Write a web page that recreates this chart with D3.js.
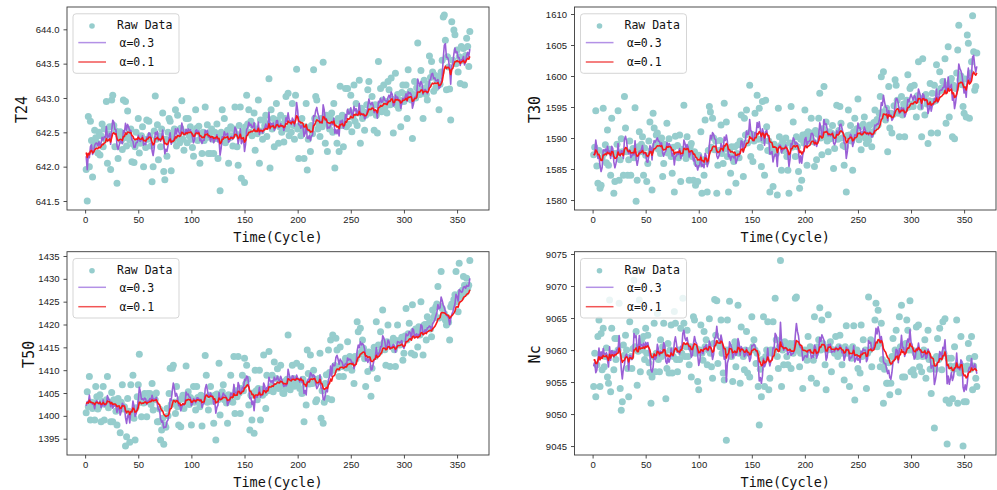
<!DOCTYPE html>
<html>
<head>
<meta charset="utf-8">
<script src="https://cdnjs.cloudflare.com/ajax/libs/d3/7.8.5/d3.min.js"></script>
<style>
  html, body { margin: 0; padding: 0; background: #ffffff; }
  svg { display: block; }
</style>
</head>
<body>
<svg id="chart" width="997" height="490"></svg>
<script>
// ---------------- DATA (cycles 1..362) ----------------
const T24 = [
641.96,641.50,642.73,642.00,642.66,642.38,641.85,642.30,642.53,642.42,
642.35,642.20,642.50,642.17,642.45,642.62,642.29,642.55,642.40,642.95,
642.05,642.48,642.58,641.96,642.97,643.04,642.60,642.29,642.52,641.76,
642.12,642.45,642.51,642.38,642.25,642.97,642.42,642.95,642.30,642.81,
642.48,642.39,642.55,642.07,642.33,642.06,642.29,642.50,642.36,642.70,
642.20,642.34,642.45,642.58,642.00,642.40,642.28,642.68,642.40,642.66,
642.45,642.30,641.78,642.00,642.52,643.03,642.40,642.61,642.10,642.45,
642.29,642.55,642.78,641.93,641.81,642.40,642.15,642.50,642.70,642.66,
641.94,642.48,642.39,642.55,642.83,642.30,642.75,642.42,642.35,642.56,
642.96,642.40,642.24,642.50,642.70,642.35,642.70,642.45,642.58,642.40,
642.28,642.15,642.50,642.83,642.56,642.38,642.59,642.05,642.45,642.19,
642.50,642.38,642.87,642.42,642.61,642.19,642.48,642.19,642.55,642.40,
642.19,642.50,642.41,642.62,642.12,642.45,641.65,642.50,642.83,642.40,
642.70,642.35,642.48,642.53,642.05,642.42,642.58,642.45,642.30,642.55,
642.87,642.48,642.29,642.02,642.60,642.87,641.83,642.45,642.52,641.77,
642.58,643.04,642.62,642.83,642.50,642.66,642.45,642.60,642.78,642.24,
642.55,642.48,642.97,642.05,642.68,642.52,642.40,642.68,642.60,642.75,
642.44,642.62,643.28,641.98,642.83,642.55,642.70,642.29,642.62,642.92,
642.68,642.34,642.58,642.75,642.50,642.62,642.36,642.70,643.02,642.55,
643.07,642.45,642.62,642.50,642.92,642.60,642.40,643.04,643.42,642.55,
642.12,642.60,642.45,642.70,642.52,642.12,642.58,642.92,641.95,642.40,
642.55,642.22,642.60,642.48,643.41,642.70,643.02,642.97,642.55,642.62,
642.44,642.70,642.58,643.52,642.65,642.34,642.75,642.22,642.61,642.55,
642.70,642.78,642.50,642.92,641.98,642.66,642.34,642.70,642.22,643.17,
642.60,642.75,642.29,642.68,643.14,642.58,643.14,642.62,642.80,643.04,
642.51,642.72,643.19,642.66,642.92,642.60,642.78,643.26,642.34,642.85,
642.70,642.80,642.53,642.75,642.90,643.12,643.24,642.78,642.85,643.02,
642.80,642.53,642.90,642.75,642.49,643.53,642.88,643.14,642.80,642.97,
643.19,642.85,642.95,642.78,643.24,643.12,642.90,643.29,642.98,642.49,
642.95,643.36,642.90,643.05,642.85,642.97,642.58,643.08,643.19,642.95,
643.05,643.19,642.70,643.41,643.00,643.10,642.97,642.41,643.05,643.24,
643.00,643.15,643.80,643.10,643.05,643.40,643.12,642.70,643.26,643.15,
643.05,642.97,643.20,643.61,643.30,643.53,643.38,643.10,643.33,643.15,
643.25,643.31,642.83,643.20,643.38,643.55,644.18,644.21,643.84,643.12,
643.60,643.45,643.13,642.68,644.11,643.55,643.99,643.92,643.50,643.70,
643.38,643.60,643.21,643.75,643.55,643.72,643.19,643.62,643.87,643.75,
643.46,643.97];

const T30 = [
1587.3,1588.5,1594.4,1585.5,1582.7,1588.0,1581.9,1582.4,1586.8,1594.8,
1587.5,1588.9,1586.0,1591.3,1585.6,1588.2,1584.0,1593.2,1587.5,1581.1,
1583.0,1587.5,1589.0,1594.4,1583.2,1586.5,1589.9,1587.8,1584.0,1596.7,
1591.6,1587.8,1584.0,1586.5,1589.5,1584.0,1587.8,1588.3,1586.8,1594.9,
1579.8,1583.2,1588.6,1591.0,1587.8,1589.0,1590.2,1584.0,1588.4,1587.2,
1583.0,1585.9,1589.5,1592.6,1588.0,1581.6,1594.0,1591.6,1588.8,1590.5,
1590.8,1588.2,1589.4,1587.5,1590.0,1583.8,1585.9,1589.0,1588.6,1592.4,
1587.6,1589.9,1588.2,1587.0,1584.3,1588.5,1581.3,1590.3,1587.2,1588.8,
1586.8,1590.5,1583.0,1588.2,1587.5,1595.3,1588.0,1586.7,1590.2,1587.5,
1583.2,1588.6,1589.1,1587.0,1583.2,1587.8,1582.4,1586.0,1583.0,1587.2,
1585.8,1591.0,1581.1,1586.5,1584.0,1592.9,1586.2,1581.3,1588.0,1595.1,
1594.2,1588.5,1593.2,1590.0,1588.1,1589.5,1581.1,1585.6,1588.0,1589.6,
1592.1,1587.5,1585.9,1595.6,1588.3,1592.6,1587.0,1581.3,1588.0,1584.3,
1588.6,1587.0,1586.2,1588.6,1582.7,1587.5,1588.9,1586.8,1589.5,1593.7,
1589.0,1583.8,1593.2,1590.5,1594.5,1589.2,1590.8,1598.5,1587.0,1590.6,
1586.2,1589.5,1594.0,1590.0,1596.9,1589.8,1594.8,1588.5,1585.4,1595.9,
1589.6,1584.0,1596.1,1591.8,1588.0,1589.5,1581.3,1587.8,1588.5,1582.2,
1589.0,1588.2,1587.5,1580.8,1594.8,1590.2,1588.8,1584.8,1589.5,1588.0,
1588.9,1590.0,1587.0,1584.8,1581.1,1589.2,1595.1,1588.5,1592.6,1589.0,
1587.0,1590.2,1588.6,1584.6,1581.9,1589.8,1583.2,1590.5,1589.2,1594.5,
1590.6,1585.6,1591.0,1589.5,1590.2,1593.2,1590.8,1589.4,1585.4,1591.2,
1586.5,1590.6,1593.2,1597.2,1590.0,1587.3,1591.5,1598.3,1590.2,1592.6,
1589.5,1587.8,1591.0,1589.9,1590.8,1592.0,1585.1,1588.3,1590.5,1595.3,
1589.8,1591.2,1595.1,1592.4,1590.0,1588.8,1585.6,1588.6,1581.3,1590.4,
1594.5,1590.5,1592.0,1589.5,1584.8,1591.0,1593.2,1590.2,1591.5,1596.3,
1589.7,1591.8,1588.1,1590.6,1592.2,1593.4,1590.0,1589.1,1591.5,1589.6,
1592.1,1590.5,1588.6,1591.0,1592.5,1594.5,1591.8,1593.0,1592.1,1594.0,
1596.7,1599.9,1594.2,1600.7,1593.5,1592.9,1594.8,1587.8,1598.3,1591.6,
1594.0,1590.8,1593.8,1595.2,1599.4,1598.5,1596.1,1594.0,1590.2,1594.5,
1596.7,1593.7,1595.5,1590.2,1594.8,1596.1,1600.2,1595.0,1598.0,1598.3,
1595.5,1595.1,1598.5,1596.2,1593.4,1596.8,1602.3,1596.1,1595.0,1590.2,
1602.8,1596.5,1593.7,1597.0,1595.5,1589.1,1596.0,1598.8,1590.8,1597.2,
1595.9,1598.5,1596.0,1601.8,1590.8,1597.5,1600.7,1598.0,1597.7,1599.1,
1598.2,1602.8,1592.4,1598.5,1604.7,1593.4,1599.0,1599.6,1590.2,1598.5,
1589.9,1598.0,1600.5,1604.2,1608.2,1599.4,1600.0,1598.6,1595.1,1594.0,
1599.5,1593.4,1606.6,1605.3,1593.2,1600.5,1602.3,1609.7,1603.9,1597.7,
1598.3,1603.7];

const T50 = [
1400.7,1405.3,1402.0,1408.6,1399.1,1403.0,1401.6,1402.8,1399.1,1406.4,
1404.2,1401.5,1402.0,1404.6,1398.7,1403.2,1406.4,1399.1,1402.5,1403.5,
1408.6,1401.8,1403.0,1398.7,1405.1,1398.7,1403.5,1402.7,1401.0,1398.0,
1403.8,1402.2,1396.3,1403.0,1406.8,1401.5,1402.0,1393.4,1395.4,1403.8,
1401.0,1394.2,1406.8,1400.5,1408.9,1399.5,1394.7,1401.8,1404.2,1406.8,
1413.5,1403.0,1399.8,1404.0,1402.8,1404.9,1403.2,1399.8,1404.9,1403.5,
1404.9,1402.5,1407.1,1401.3,1404.0,1403.5,1405.0,1398.7,1398.7,1401.5,
1394.7,1396.9,1399.5,1393.8,1398.0,1397.5,1401.6,1400.0,1404.9,1410.4,
1402.5,1410.4,1411.1,1403.0,1400.5,1406.4,1402.0,1398.0,1403.5,1397.6,
1403.8,1404.5,1401.6,1403.8,1410.9,1403.0,1405.3,1402.5,1404.0,1398.0,
1403.5,1406.4,1403.0,1401.3,1406.4,1404.0,1403.2,1402.0,1404.5,1397.8,
1404.2,1403.5,1413.2,1408.9,1403.0,1401.3,1404.5,1406.4,1403.2,1404.0,
1398.4,1404.5,1394.7,1404.8,1403.5,1411.5,1400.2,1404.0,1405.3,1406.8,
1403.5,1404.2,1402.8,1398.4,1404.6,1403.8,1408.9,1404.5,1403.0,1413.0,
1400.5,1405.5,1404.2,1413.0,1405.0,1400.5,1406.0,1408.9,1405.5,1412.6,
1407.0,1411.1,1408.0,1402.4,1396.9,1404.5,1399.1,1405.0,1396.2,1410.0,
1405.5,1403.5,1406.0,1410.0,1399.1,1405.8,1404.5,1413.3,1405.0,1401.6,
1408.9,1405.5,1414.1,1406.0,1406.4,1408.9,1405.3,1411.8,1406.5,1408.2,
1410.3,1406.0,1407.0,1411.1,1406.5,1405.0,1404.9,1407.5,1406.0,1408.0,
1417.7,1406.5,1405.7,1407.0,1411.1,1408.2,1406.5,1407.5,1411.5,1406.8,
1407.5,1406.0,1410.8,1404.9,1408.0,1398.7,1407.0,1402.4,1414.4,1409.3,
1407.0,1413.3,1408.5,1407.1,1410.0,1408.0,1403.1,1403.5,1407.5,1408.2,
1413.7,1399.5,1405.5,1398.4,1403.0,1407.1,1409.0,1403.8,1414.4,1409.5,
1416.6,1403.5,1417.7,1410.0,1411.0,1417.0,1414.4,1410.5,1408.6,1415.1,
1411.0,1410.8,1408.6,1411.5,1412.6,1410.5,1416.2,1411.0,1413.0,1411.8,
1410.0,1412.0,1407.1,1413.0,1412.5,1420.6,1418.4,1413.5,1419.2,1414.0,
1416.6,1414.8,1412.5,1406.4,1413.5,1409.7,1414.0,1412.8,1404.3,1410.4,
1413.8,1415.0,1413.0,1420.6,1408.2,1415.5,1414.0,1418.4,1415.0,1423.2,
1416.0,1414.5,1411.1,1416.2,1419.9,1415.5,1410.8,1416.0,1415.1,1417.0,
1414.5,1410.8,1416.5,1419.9,1416.0,1415.5,1416.6,1417.2,1412.2,1413.7,
1417.5,1423.5,1416.6,1418.0,1420.3,1417.5,1413.7,1424.3,1418.5,1413.3,
1419.0,1418.5,1415.1,1419.5,1417.7,1425.0,1419.0,1413.3,1419.9,1420.0,
1416.6,1421.7,1419.5,1420.5,1419.0,1417.3,1423.2,1421.5,1422.0,1423.9,
1424.5,1428.3,1421.4,1424.0,1431.6,1423.5,1422.0,1422.4,1421.0,1419.9,
1421.5,1420.5,1416.6,1423.9,1424.5,1424.3,1425.5,1426.5,1431.6,1425.0,
1422.8,1433.4,1427.0,1426.1,1427.5,1430.5,1428.6,1427.0,1430.1,1427.9,
1428.6,1434.0];

const Nc = [
9054.3,9059.5,9052.7,9057.7,9062.1,9064.7,9054.3,9062.6,9056.9,9063.4,
9057.4,9059.0,9060.3,9055.8,9054.8,9067.8,9053.5,9063.4,9059.5,9056.9,
9061.8,9058.5,9061.8,9060.0,9067.3,9054.0,9050.6,9051.9,9060.8,9059.2,
9062.3,9060.0,9057.1,9052.7,9064.4,9059.0,9057.1,9060.2,9070.9,9060.5,
9062.9,9054.5,9059.8,9067.8,9056.6,9061.5,9060.0,9062.1,9058.5,9063.4,
9059.5,9062.3,9058.0,9056.5,9051.7,9055.8,9059.0,9064.2,9056.6,9059.5,
9065.7,9058.5,9056.6,9061.6,9059.0,9060.5,9064.2,9059.5,9052.4,9057.1,
9061.0,9056.4,9060.0,9063.9,9056.4,9059.0,9066.0,9064.2,9058.5,9056.6,
9060.0,9058.5,9063.4,9059.5,9068.1,9064.2,9059.0,9060.5,9063.1,9059.0,
9057.7,9060.5,9055.8,9060.0,9065.2,9064.7,9059.5,9060.2,9055.1,9053.8,
9060.0,9063.9,9059.5,9058.4,9062.9,9060.5,9061.6,9057.7,9060.0,9064.9,
9059.5,9057.4,9055.6,9061.0,9067.9,9062.3,9067.7,9057.9,9061.0,9060.5,
9064.7,9059.5,9056.4,9055.3,9060.0,9045.9,9064.7,9060.0,9067.6,9060.0,
9059.0,9055.1,9060.5,9061.3,9057.4,9060.5,9067.0,9059.5,9054.8,9063.6,
9059.5,9059.0,9056.9,9060.0,9062.9,9056.4,9059.5,9055.8,9060.0,9065.2,
9060.5,9061.6,9060.0,9057.9,9059.5,9054.3,9048.3,9057.0,9052.7,9058.5,
9065.2,9054.3,9059.0,9060.0,9064.4,9053.8,9055.6,9060.0,9059.5,9064.4,
9060.0,9068.1,9061.6,9059.0,9057.1,9060.5,9074.0,9054.3,9060.0,9057.7,
9061.3,9060.5,9059.0,9057.7,9060.5,9061.0,9057.1,9060.0,9059.5,9061.0,
9068.1,9068.3,9060.0,9060.5,9057.4,9059.5,9060.0,9054.0,9059.5,9060.0,
9059.0,9058.4,9062.1,9060.0,9060.5,9055.6,9060.0,9058.4,9065.2,9059.5,
9054.8,9060.5,9061.6,9066.6,9060.0,9064.7,9061.0,9060.5,9057.7,9053.8,
9060.0,9065.5,9060.5,9061.3,9056.6,9060.0,9060.0,9059.5,9062.1,9060.0,
9059.0,9060.5,9062.3,9059.5,9057.7,9060.0,9055.3,9060.5,9063.8,9059.5,
9060.0,9054.3,9060.0,9058.7,9060.5,9063.8,9052.2,9059.5,9060.0,9057.1,
9059.5,9056.4,9063.9,9059.0,9061.6,9059.5,9060.0,9054.0,9059.5,9068.3,
9060.0,9061.6,9057.4,9060.5,9061.0,9064.7,9067.3,9060.5,9066.2,9061.0,
9057.4,9064.2,9058.5,9051.7,9057.0,9058.0,9054.8,9054.8,9058.0,9053.0,
9054.8,9059.0,9061.8,9059.0,9060.0,9063.1,9059.5,9053.5,9065.2,9060.5,
9067.0,9055.8,9060.5,9055.8,9061.0,9064.7,9063.1,9060.0,9067.7,9056.6,
9060.0,9056.9,9056.1,9059.5,9063.6,9059.0,9063.9,9057.4,9059.5,9056.6,
9059.0,9060.0,9061.6,9055.6,9059.5,9063.1,9058.5,9057.0,9053.2,9058.5,
9057.5,9047.8,9057.0,9059.0,9061.8,9058.5,9063.4,9059.0,9056.9,9064.4,
9059.5,9064.9,9052.2,9045.3,9058.7,9051.7,9057.5,9058.7,9052.4,9057.0,
9060.5,9057.5,9064.7,9051.7,9057.0,9056.4,9062.1,9057.5,9045.0,9051.9,
9057.0,9051.9,9057.5,9061.0,9058.7,9057.0,9062.1,9053.8,9057.5,9059.0,
9055.6,9054.3];

const xTicks = [0, 50, 100, 150, 200, 250, 300, 350];
const T24_TICKS = [641.5, 642.0, 642.5, 643.0, 643.5, 644.0];
const T30_TICKS = [1580, 1585, 1590, 1595, 1600, 1605, 1610];
const T50_TICKS = [1395, 1400, 1405, 1410, 1415, 1420, 1425, 1430, 1435];
const NC_TICKS  = [9045, 9050, 9055, 9060, 9065, 9070, 9075];
const SMOOTH_ALPHAS = [0.3, 0.1];
const X_LABEL = "Time(Cycle)";
const LEGEND_LABELS = ["Raw Data", "\u03b1=0.3", "\u03b1=0.1"];

// ---------------- LAYOUT / STYLE ----------------
const COL = { dot: "#96CDCD", a3: "#9A5FD6", a1: "#F81818", legA3: "#B391E6", legA1: "#F25555", axis: "#3a3a3a" };
const MONO = "'DejaVu Sans Mono', 'Liberation Mono', monospace";
const SANS = "'Liberation Sans', Arial, sans-serif";

const panels = [
  { name: "T24", values: T24, ticks: T24_TICKS, fmt: d3.format(".1f"), dom: [641.369, 644.325], left: 67,    right: 489, top: 7,     bottom: 210, labX: 22 },
  { name: "T30", values: T30, ticks: T30_TICKS, fmt: d3.format("d"),   dom: [1578.39, 1611.13], left: 574.5, right: 996, top: 7,     bottom: 210, labX: 535 },
  { name: "T50", values: T50, ticks: T50_TICKS, fmt: d3.format("d"),   dom: [1391.43, 1435.94], left: 67,    right: 489, top: 251.7, bottom: 455, labX: 28.5 },
  { name: "Nc",  values: Nc,  ticks: NC_TICKS,  fmt: d3.format("d"),   dom: [9043.6, 9075.36],  left: 574.5, right: 996, top: 251.7, bottom: 455, labX: 535 }
];

// exponential smoothing, seeded with the mean of the first readings
function smooth(vals, a) {
  let s = d3.mean(vals.slice(0, 10));
  return vals.map(v => (s = a * v + (1 - a) * s));
}

const svg = d3.select("#chart");
svg.append("rect").attr("width", 997).attr("height", 490).attr("fill", "#fff");

panels.forEach((p, pi) => {
  const cycles = p.values.map((_, i) => i + 1);
  const x = d3.scaleLinear().domain([-17.05, 380.05]).range([p.left, p.right]);
  const y = d3.scaleLinear().domain(p.dom).range([p.bottom, p.top]);
  const g = svg.append("g");

  const clipId = "clip" + pi;
  g.append("clipPath").attr("id", clipId).append("rect")
    .attr("x", p.left).attr("y", p.top).attr("width", p.right - p.left).attr("height", p.bottom - p.top);

  const plot = g.append("g").attr("clip-path", `url(#${clipId})`);

  // raw data
  plot.append("g").selectAll("circle").data(p.values).join("circle")
    .attr("cx", (d, i) => x(cycles[i])).attr("cy", d => y(d))
    .attr("r", 3.5).attr("fill", COL.dot);

  // smoothed lines
  const line = d3.line().x((d, i) => x(cycles[i])).y(d => y(d));
  const s3 = smooth(p.values, SMOOTH_ALPHAS[0]);
  const s1 = smooth(p.values, SMOOTH_ALPHAS[1]);
  plot.append("path").datum(s3).attr("d", line).attr("fill", "none")
    .attr("stroke", COL.a3).attr("stroke-width", 1.6).attr("stroke-linejoin", "round");
  plot.append("path").datum(s1).attr("d", line).attr("fill", "none")
    .attr("stroke", COL.a1).attr("stroke-width", 1.6).attr("stroke-linejoin", "round");

  // frame
  g.append("rect").attr("x", p.left).attr("y", p.top)
    .attr("width", p.right - p.left).attr("height", p.bottom - p.top)
    .attr("fill", "none").attr("stroke", COL.axis).attr("stroke-width", 0.9);

  // x axis
  const xa = g.append("g").attr("transform", `translate(0,${p.bottom})`)
    .call(d3.axisBottom(x).tickValues(xTicks).tickSize(3.5).tickPadding(3).tickFormat(d3.format("d")));
  xa.select(".domain").remove();
  xa.selectAll(".tick line").attr("stroke", COL.axis).attr("stroke-width", 0.9);
  xa.selectAll(".tick text").attr("font-family", SANS).attr("font-size", 9.5).attr("fill", "#222");

  // y axis
  const ya = g.append("g").attr("transform", `translate(${p.left},0)`)
    .call(d3.axisLeft(y).tickValues(p.ticks).tickSize(3.5).tickPadding(4).tickFormat(p.fmt));
  ya.select(".domain").remove();
  ya.selectAll(".tick line").attr("stroke", COL.axis).attr("stroke-width", 0.9);
  ya.selectAll(".tick text").attr("font-family", SANS).attr("font-size", 9.5).attr("fill", "#222");

  // axis labels
  g.append("text").attr("x", (p.left + p.right) / 2).attr("y", p.bottom + 32)
    .attr("text-anchor", "middle").attr("font-family", MONO).attr("font-size", 13.5).attr("fill", "#111")
    .text(X_LABEL);
  g.append("text").attr("transform", `translate(${p.labX},${(p.top + p.bottom) / 2 + 1}) rotate(-90)`)
    .attr("text-anchor", "middle").attr("dy", "0.35em")
    .attr("font-family", MONO).attr("font-size", 15).attr("fill", "#111")
    .text(p.name);

  // legend
  const L = g.append("g").attr("transform", `translate(${p.left},${p.top})`);
  L.append("rect").attr("x", 6).attr("y", 6.8).attr("width", 106).attr("height", 59.5).attr("rx", 3)
    .attr("fill", "#fff").attr("fill-opacity", 0.8).attr("stroke", "#d0d0d0").attr("stroke-width", 0.9);
  L.append("circle").attr("cx", 25).attr("cy", 19).attr("r", 2.8).attr("fill", COL.dot);
  L.append("line").attr("x1", 11.3).attr("x2", 39).attr("y1", 35.6).attr("y2", 35.6)
    .attr("stroke", COL.legA3).attr("stroke-width", 1.5);
  L.append("line").attr("x1", 11.3).attr("x2", 39).attr("y1", 55).attr("y2", 55)
    .attr("stroke", COL.legA1).attr("stroke-width", 1.5);
  const lt = [[50, 22.4], [52.5, 40], [52.5, 59.3]];
  LEGEND_LABELS.forEach((t, i) => {
    L.append("text").attr("x", lt[i][0]).attr("y", lt[i][1])
      .attr("font-family", MONO).attr("font-size", 11.5).attr("fill", "#111").text(t);
  });
});
</script>
</body>
</html>
